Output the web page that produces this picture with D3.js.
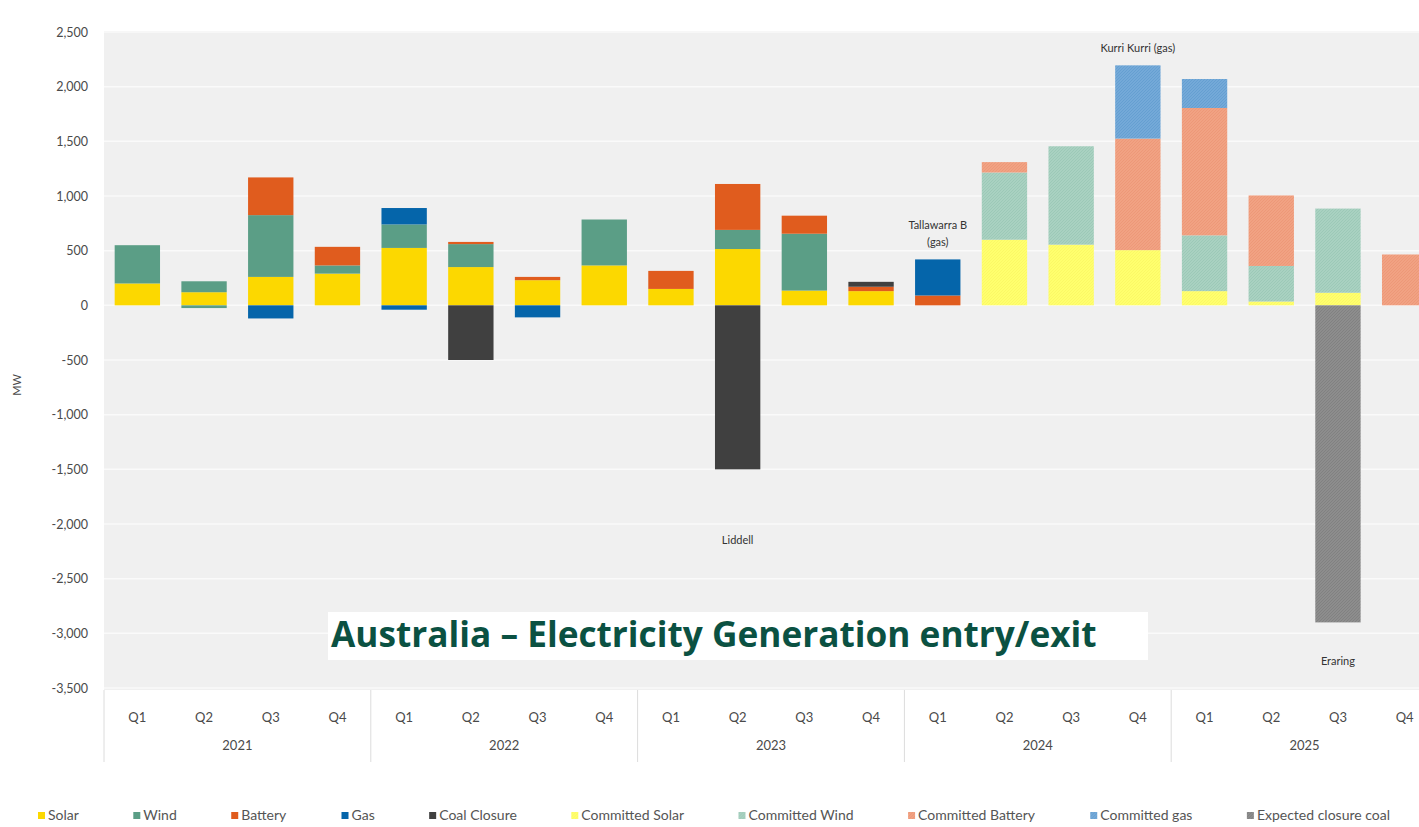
<!DOCTYPE html>
<html>
<head>
<meta charset="utf-8">
<script src="https://cdn.jsdelivr.net/npm/d3@7"></script>
<style>
  html, body { margin: 0; padding: 0; background: #ffffff; }
  svg { display: block; }
</style>
</head>
<body>
<svg id="chart" width="1419" height="827"></svg>
<script>
// ---- data (MW per quarter) ----
const years = ["2021", "2022", "2023", "2024", "2025"];
const quarters = ["Q1", "Q2", "Q3", "Q4"];
const categories = years.flatMap(y => quarters.map(q => y + " " + q));

const solar            = [200, 120, 260, 290,  525, 350, 230, 365,  150, 515, 135, 130,    0,   0,   0,    0,     0,   0,     0,   0];
const wind             = [350, 100, 565,  75,  215, 210,   0, 420,    0, 175, 520,   0,    0,   0,   0,    0,     0,   0,     0,   0];
const windExit         = [  0, -25,   0,   0,    0,   0,   0,   0,    0,   0,   0,   0,    0,   0,   0,    0,     0,   0,     0,   0];
const battery          = [  0,   0, 345, 170,    0,  20,  30,   0,  165, 420, 165,  40,   90,   0,   0,    0,     0,   0,     0,   0];
const gas              = [  0,   0,   0,   0,  150,   0,   0,   0,    0,   0,   0,   0,  330,   0,   0,    0,     0,   0,     0,   0];
const gasExit          = [  0,   0,-120,   0,  -40,   0,-110,   0,    0,   0,   0,   0,    0,   0,   0,    0,     0,   0,     0,   0];
const coalClosure      = [  0,   0,   0,   0,    0,-500,   0,   0,    0,-1500,  0,  45,    0,   0,   0,    0,     0,   0,     0,   0];
const committedSolar   = [  0,   0,   0,   0,    0,   0,   0,   0,    0,   0,   0,   0,    0, 600, 555,  505,   130,  35,   115,   0];
const committedWind    = [  0,   0,   0,   0,    0,   0,   0,   0,    0,   0,   0,   0,    0, 615, 900,    0,   510, 325,   770,   0];
const committedBattery = [  0,   0,   0,   0,    0,   0,   0,   0,    0,   0,   0,   0,    0,  95,   0, 1020,  1165, 645,     0, 465];
const committedGas     = [  0,   0,   0,   0,    0,   0,   0,   0,    0,   0,   0,   0,    0,   0,   0,  670,   265,   0,     0,   0];
const expectedCoal     = [  0,   0,   0,   0,    0,   0,   0,   0,    0,   0,   0,   0,    0,   0,   0,    0,     0,   0, -2900,   0];

const yTicks = [-3500, -3000, -2500, -2000, -1500, -1000, -500, 0, 500, 1000, 1500, 2000, 2500];

const annotations = [
  { cat: "2024 Q4", value: 2500, dy: 20, lines: ["Kurri Kurri (gas)"] },
  { cat: "2024 Q1", value: 700, dy: 0, lines: ["Tallawarra B", "(gas)"] },
  { cat: "2023 Q2", value: -2180, dy: 0, lines: ["Liddell"] },
  { cat: "2025 Q3", value: -3290, dy: 0, lines: ["Eraring"] }
];

const titleText = "Australia \u2013 Electricity Generation entry/exit";

// ---- series definitions ----
const series = [
  { key: "solar", values: solar, label: "Solar", fill: "#fcd800", legend: true },
  { key: "wind", values: wind, label: "Wind", fill: "#5b9e86", legend: true },
  { key: "windExit", values: windExit, label: "Wind", fill: "#5b9e86", legend: false },
  { key: "battery", values: battery, label: "Battery", fill: "#e05c1e", legend: true },
  { key: "gas", values: gas, label: "Gas", fill: "#0565aa", legend: true },
  { key: "gasExit", values: gasExit, label: "Gas", fill: "#0565aa", legend: false },
  { key: "coalClosure", values: coalClosure, label: "Coal Closure", fill: "#404040", legend: true },
  { key: "committedSolar", values: committedSolar, label: "Committed Solar", fill: "url(#p-csolar)", legend: true },
  { key: "committedWind", values: committedWind, label: "Committed Wind", fill: "url(#p-cwind)", legend: true },
  { key: "committedBattery", values: committedBattery, label: "Committed Battery", fill: "url(#p-cbattery)", legend: true },
  { key: "committedGas", values: committedGas, label: "Committed gas", fill: "url(#p-cgas)", legend: true },
  { key: "expectedCoal", values: expectedCoal, label: "Expected closure coal", fill: "url(#p-ecoal)", legend: true }
];

const table = categories.map((c, i) => {
  const row = { cat: c };
  series.forEach(s => row[s.key] = s.values[i]);
  return row;
});

// ---- layout ----
const svg = d3.select("#chart");
const W = 1419, H = 827;
const plotLeft = 104, plotRight = 1438;

const x = d3.scaleBand().domain(categories).range([plotLeft, plotRight])
  .paddingInner(0.32).paddingOuter(0.16);
const y = d3.scaleLinear().domain([-3500, 2500]).range([688, 32]);

const locale = d3.formatLocale({ decimal: ".", thousands: ",", grouping: [3], currency: ["$", ""], minus: "-" });
const fmt = locale.format(",");

// ---- patterns for committed / expected series ----
const defs = svg.append("defs");
function hatch(id, base, line, op) {
  const p = defs.append("pattern").attr("id", id).attr("patternUnits", "userSpaceOnUse")
    .attr("width", 3).attr("height", 3);
  p.append("rect").attr("width", 3).attr("height", 3).attr("fill", base);
  p.append("path").attr("d", "M0,3 L3,0 M-1,1 L1,-1 M2,4 L4,2")
    .attr("stroke", line).attr("stroke-width", 0.8).attr("stroke-opacity", op);
}
hatch("p-csolar", "#ffff6e", "#f6f05a", 0.6);
hatch("p-cwind", "#a9d1c1", "#94c4b2", 0.8);
hatch("p-cbattery", "#f1a283", "#ea9272", 0.8);
hatch("p-cgas", "#74a9d8", "#5d98cc", 0.8);
hatch("p-ecoal", "#8d8d8d", "#7a7a7a", 0.8);

// ---- plot background and gridlines ----
svg.append("rect").attr("x", plotLeft).attr("y", y(2500) - 1)
  .attr("width", W - plotLeft).attr("height", y(-3500) - y(2500) + 3)
  .attr("fill", "#f0f0f0");

svg.append("g").selectAll("line").data(yTicks).join("line")
  .attr("x1", plotLeft).attr("x2", W)
  .attr("y1", d => y(d)).attr("y2", d => y(d))
  .attr("stroke", "#fafafa").attr("stroke-width", 1.5);

// ---- y axis ----
const yAxis = d3.axisLeft(y).tickValues(yTicks).tickFormat(fmt).tickSize(0).tickPadding(0);
const gy = svg.append("g").attr("transform", "translate(88,0)").call(yAxis);
gy.select(".domain").remove();
gy.selectAll("text").attr("font-family", "Lato, 'Open Sans', sans-serif")
  .attr("font-size", 12.5).attr("fill", "#4a4a4a");

svg.append("text").attr("transform", "translate(21,385) rotate(-90)")
  .attr("text-anchor", "middle").attr("font-family", "Lato, sans-serif")
  .attr("font-size", 11).attr("fill", "#4a4a4a").text("MW");

// ---- stacked bars ----
const stack = d3.stack().keys(series.map(s => s.key)).offset(d3.stackOffsetDiverging);
const layers = stack(table);

const gBars = svg.append("g");
layers.forEach((layer, li) => {
  const s = series[li];
  gBars.append("g").attr("fill", s.fill)
    .selectAll("rect")
    .data(layer.filter(d => d[1] !== d[0]))
    .join("rect")
    .attr("x", d => x(d.data.cat))
    .attr("width", x.bandwidth())
    .attr("y", d => y(Math.max(d[0], d[1])))
    .attr("height", d => Math.abs(y(d[0]) - y(d[1])));
});

// ---- x axis: quarters and years ----
const gx = svg.append("g");
gx.selectAll("text.q").data(categories).join("text")
  .attr("class", "q")
  .attr("x", d => x(d) + x.bandwidth() / 2).attr("y", 722)
  .attr("text-anchor", "middle").attr("font-family", "Lato, sans-serif")
  .attr("font-size", 13).attr("fill", "#4a4a4a")
  .text(d => d.split(" ")[1]);

const step = x.step();
const yearStart = i => plotLeft + i * 4 * step;
gx.selectAll("text.yr").data(years).join("text")
  .attr("class", "yr")
  .attr("x", (d, i) => yearStart(i) + 2 * step).attr("y", 750)
  .attr("text-anchor", "middle").attr("font-family", "Lato, sans-serif")
  .attr("font-size", 13).attr("fill", "#4a4a4a")
  .text(d => d);

gx.selectAll("line.sep").data(d3.range(years.length + 1)).join("line")
  .attr("class", "sep")
  .attr("x1", i => yearStart(i)).attr("x2", i => yearStart(i))
  .attr("y1", 690).attr("y2", 762)
  .attr("stroke", "#dcdcdc").attr("stroke-width", 1);

// ---- annotations ----
annotations.forEach(a => {
  const t = svg.append("text")
    .attr("x", x(a.cat) + x.bandwidth() / 2)
    .attr("y", y(a.value) + a.dy)
    .attr("text-anchor", "middle").attr("font-family", "Lato, sans-serif")
    .attr("font-size", 11).attr("fill", "#333333");
  a.lines.forEach((ln, i) => t.append("tspan")
    .attr("x", x(a.cat) + x.bandwidth() / 2).attr("dy", i === 0 ? 0 : 17).text(ln));
});

// ---- title box ----
svg.append("rect").attr("x", 328).attr("y", 612).attr("width", 820).attr("height", 48)
  .attr("fill", "#ffffff");
const title = svg.append("text").attr("x", 331).attr("y", 647)
  .attr("font-family", "'Open Sans', 'Noto Sans', sans-serif").attr("font-weight", 700)
  .attr("font-size", 28).attr("fill", "#0b5142").text(titleText);
const tw = title.node().getComputedTextLength();
title.attr("font-size", 28 * 766 / tw);

// ---- legend ----
const legendItems = series.filter(s => s.legend);
const gL = svg.append("g");
const items = gL.selectAll("g").data(legendItems).join("g");
items.append("rect").attr("width", 7).attr("height", 7).attr("y", -8)
  .attr("fill", d => d.fill);
items.append("text").attr("x", 10).attr("y", 0)
  .attr("font-family", "Lato, sans-serif").attr("font-size", 14)
  .attr("fill", "#555555").text(d => d.label);
const widths = [];
items.each(function () { widths.push(this.getBBox().width); });
const legStart = 38, legEnd = 1390;
const gap = (legEnd - legStart - d3.sum(widths)) / (widths.length - 1);
let cx = legStart;
items.attr("transform", (d, i) => {
  const t = `translate(${cx},820)`;
  cx += widths[i] + gap;
  return t;
});
</script>
</body>
</html>
